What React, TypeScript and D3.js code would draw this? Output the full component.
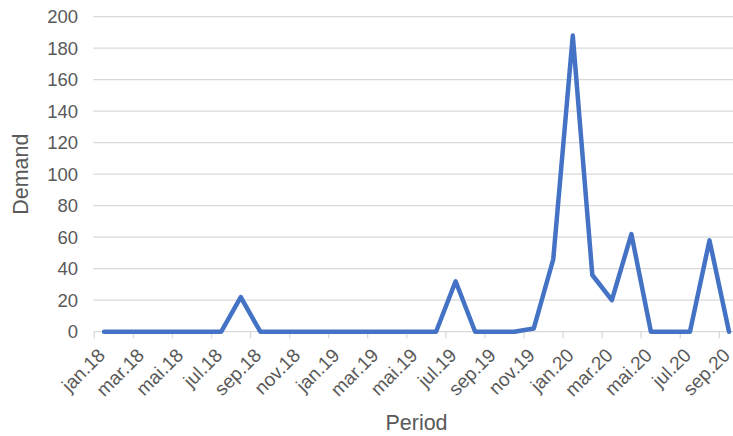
import React from "react";
import * as d3 from "d3";

const months = [
  "jan.18","feb.18","mar.18","apr.18","mai.18","jun.18","jul.18","aug.18","sep.18","okt.18","nov.18","des.18",
  "jan.19","feb.19","mar.19","apr.19","mai.19","jun.19","jul.19","aug.19","sep.19","okt.19","nov.19","des.19",
  "jan.20","feb.20","mar.20","apr.20","mai.20","jun.20","jul.20","aug.20","sep.20",
];
const demand = [
  0,0,0,0,0,0,0,22,0,0,0,0,
  0,0,0,0,0,0,32,0,0,0,2,46,
  188,36,20,62,0,0,0,58,0,
];
const yTicks = [0,20,40,60,80,100,120,140,160,180,200];

const W = 733, H = 436;
const left = 94.3, catW = 19.53;
const top = 16.7, bottom = 331.7;
const font = "'Liberation Sans', Arial, sans-serif";
const grey = "#595959";

export default function App() {
  const x = d3.scaleBand<string>().domain(months).range([left, left + catW * months.length]).padding(0);
  const y = d3.scaleLinear().domain([0, 200]).range([bottom, top]);
  const cx = (m: string) => (x(m) as number) + x.bandwidth() / 2;
  const line = d3.line<number>().x((_, i) => cx(months[i])).y((d) => y(d));
  const tickMonths = months.filter((_, i) => i % 2 === 0);
  const right = W;
  return (
    <svg width={W} height={H} style={{ position: "absolute", left: 0, top: 0, background: "#fff" }}>
      {yTicks.map((t) => (
        <g key={t}>
          {t > 0 && <line x1={left - 1} x2={right} y1={y(t)} y2={y(t)} stroke="#d9d9d9" strokeWidth={1.3} />}
          <text x={78} y={y(t)} dy="0.35em" textAnchor="end" fontFamily={font} fontSize={18.5} fill={grey}>{t}</text>
        </g>
      ))}
      <line x1={left - 1} x2={right} y1={bottom} y2={bottom} stroke="#d9d9d9" strokeWidth={1.3} />
      {tickMonths.map((m) => (
        <line key={m} x1={x(m)} x2={x(m)} y1={bottom} y2={bottom + 6.5} stroke="#d9d9d9" strokeWidth={1.3} />
      ))}
      {tickMonths.map((m) => (
        <text key={m} transform={`translate(${cx(m) - 2.5},${bottom + 20}) rotate(-45)`} textAnchor="end" dy="0.35em"
          fontFamily={font} fontSize={19} fill={grey}>{m}</text>
      ))}
      <path d={line(demand) as string} fill="none" stroke="#4472C4" strokeWidth={4.5} strokeLinejoin="round" strokeLinecap="round" />
      <text transform={`translate(28.3,${(top + bottom) / 2}) rotate(-90)`} textAnchor="middle" fontFamily={font} fontSize={21.5} fill={grey}>Demand</text>
      <text x={416.5} y={429.5} textAnchor="middle" fontFamily={font} fontSize={21.5} fill={grey}>Period</text>
    </svg>
  );
}
